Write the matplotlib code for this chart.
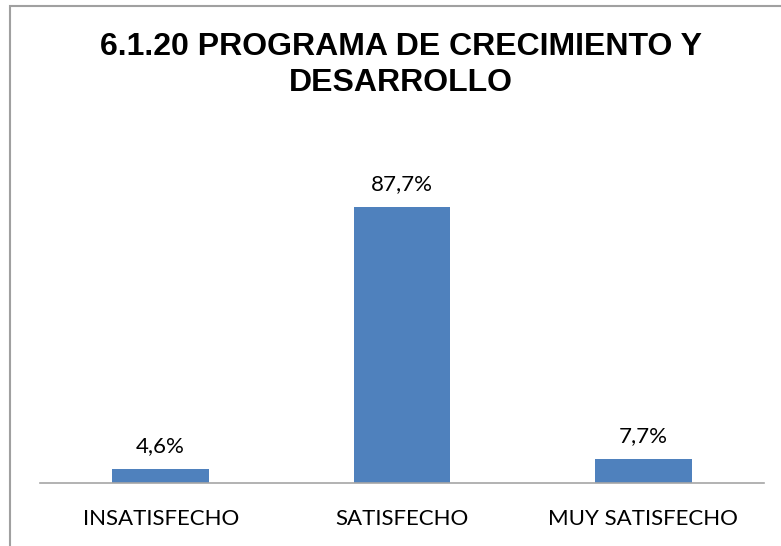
import matplotlib.pyplot as plt
from matplotlib.patches import Rectangle

categorias = ['INSATISFECHO', 'SATISFECHO', 'MUY SATISFECHO']
valores = [4.6, 87.7, 7.7]
etiquetas = ['4,6%', '87,7%', '7,7%']

fig = plt.figure(figsize=(7.81, 5.46), dpi=100)
ax = fig.add_axes([40 / 781, 1 - 483 / 546, 724 / 781, 314.7 / 546])

x = range(len(categorias))
barras = ax.bar(x, valores, width=0.4, color='#4f81bd')
ax.set_xlim(-0.5, 2.5)
ax.set_ylim(0, 100)

for b, et in zip(barras, etiquetas):
    ax.text(b.get_x() + b.get_width() / 2, b.get_height() + 4, et,
            ha='center', va='bottom', fontsize=16, family='Lato')

ax.set_xticks(list(x))
ax.set_xticklabels(categorias, fontsize=16, family='Lato')
ax.tick_params(axis='x', length=0, pad=19)
ax.set_yticks([])
for s in ['top', 'right', 'left']:
    ax.spines[s].set_visible(False)
ax.spines['bottom'].set_color('#a6a6a6')
ax.spines['bottom'].set_linewidth(1.2)

fig.text(401 / 781, 1 - 65 / 546, '6.1.20 PROGRAMA DE CRECIMIENTO Y\nDESARROLLO',
         ha='center', va='center', fontsize=23, fontweight='bold',
         family='Liberation Sans', linespacing=1.3)

# marco del grafico
fig.patches.append(Rectangle((10 / 781, -0.1), 1.2, 1 - 6 / 546 + 0.1,
                             transform=fig.transFigure, fill=False,
                             edgecolor='#a0a0a0', linewidth=1.5))

fig.savefig('out.png', dpi=100)
